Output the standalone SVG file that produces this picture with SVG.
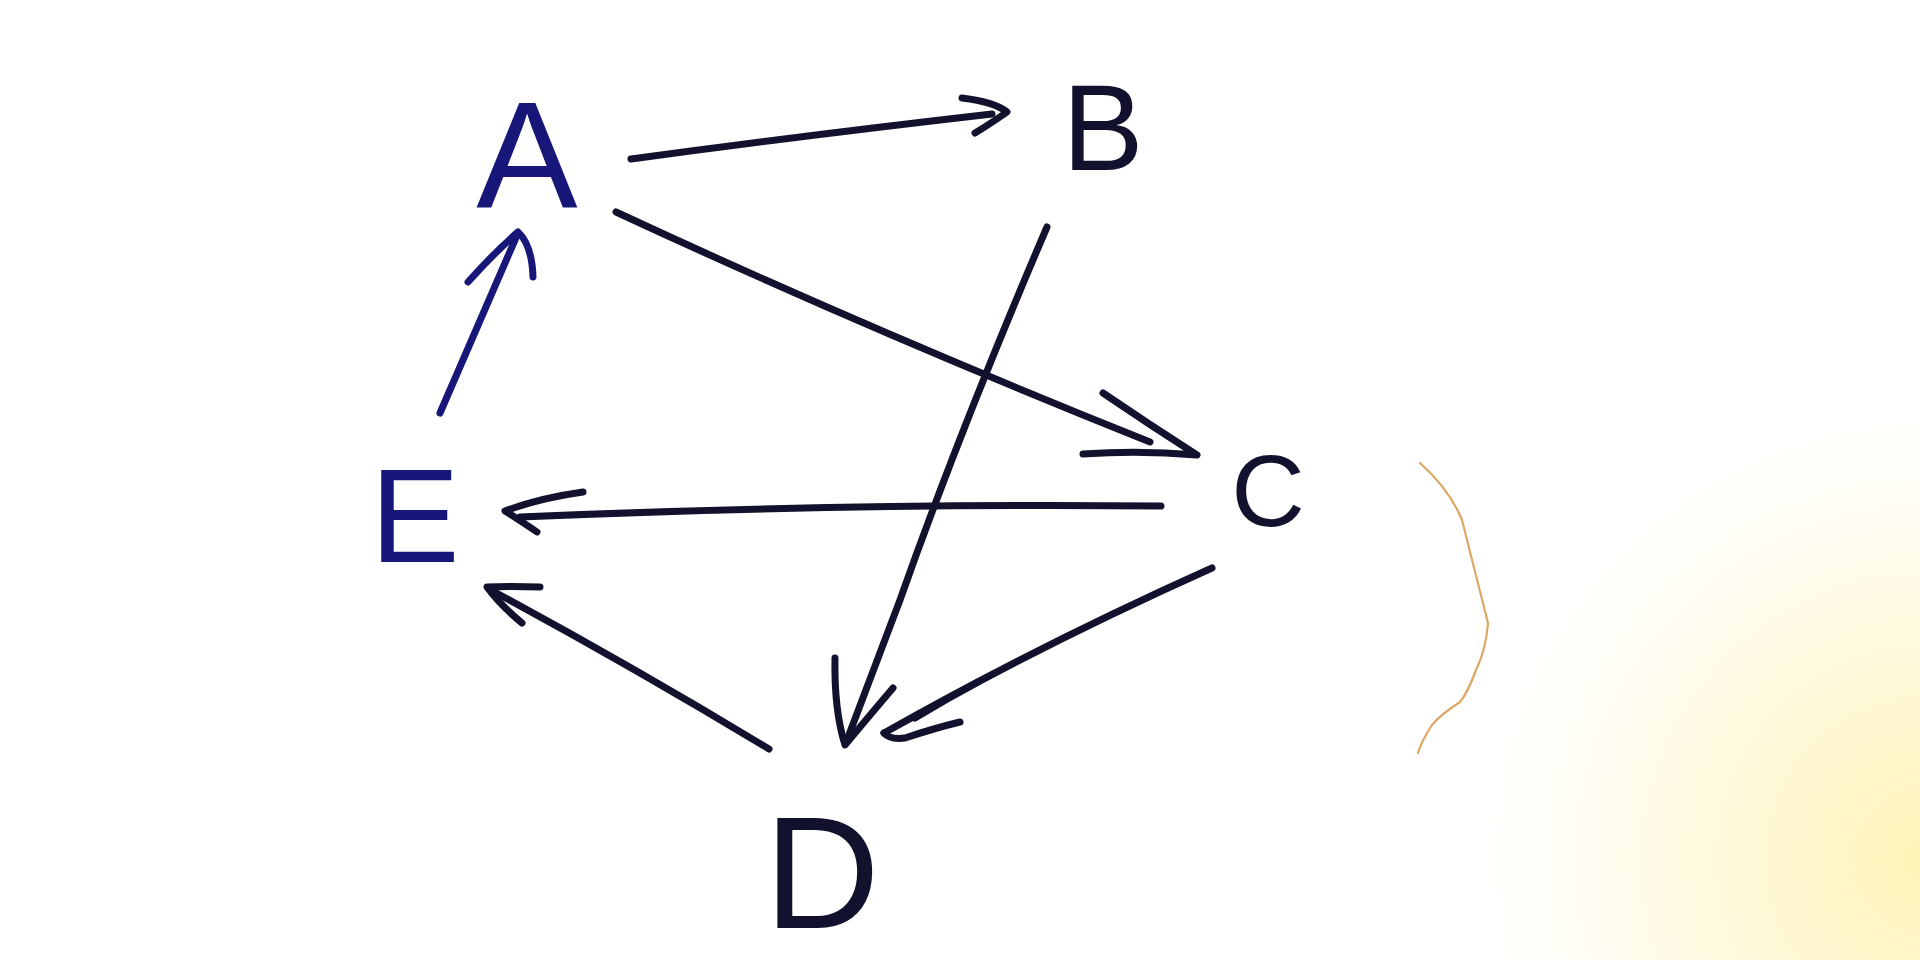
<svg xmlns="http://www.w3.org/2000/svg" width="1920" height="960" viewBox="0 0 1920 960">
  <defs>
    <radialGradient id="tint" cx="1930" cy="860" r="520" gradientUnits="userSpaceOnUse">
      <stop offset="0" stop-color="#fff2b0" stop-opacity="0.95"/>
      <stop offset="0.5" stop-color="#fff6cc" stop-opacity="0.55"/>
      <stop offset="1" stop-color="#ffffff" stop-opacity="0"/>
    </radialGradient>
    <style>
      .ink { fill: none; stroke: #12122e; stroke-width: 7; stroke-linecap: round; stroke-linejoin: round; }
      .blue { stroke: #17177a; }
      .lbl { font-family: "Liberation Sans", Arial, sans-serif; fill: #12122e; text-anchor: middle; }
      .lblb { fill: #17177a; }
      .stray { fill: none; stroke: #d08a30; stroke-width: 2.2; stroke-linecap: round; opacity: 0.75; }
    </style>
  </defs>
  <rect width="1920" height="960" fill="#ffffff"/>
  <rect width="1920" height="960" fill="url(#tint)"/>

  <g id="connectors">
    <!-- A -> B -->
    <g id="edge-A-B">
      <path class="ink" d="M631,159 Q800,136 992,114"/>
      <path class="ink" d="M962,98 Q995,102 1007,112 Q990,124 975,133"/>
    </g>
    <!-- A -> C -->
    <g id="edge-A-C">
      <path class="ink" d="M616,212 Q870,330 1150,442"/>
      <path class="ink" d="M1103,393 Q1150,425 1197,455 Q1140,450 1083,454"/>
    </g>
    <!-- B -> D -->
    <g id="edge-B-D">
      <path class="ink" d="M1047,227 Q960,430 900,600 Q870,680 847,740"/>
      <path class="ink" d="M835,658 Q834,710 845,745 Q870,715 893,688"/>
    </g>
    <!-- C -> E -->
    <g id="edge-C-E">
      <path class="ink" d="M1161,506 Q850,503 520,517"/>
      <path class="ink" d="M583,492 Q540,498 505,511 Q520,520 537,532"/>
    </g>
    <!-- C -> D -->
    <g id="edge-C-D">
      <path class="ink" d="M1212,568 Q1040,645 884,733"/>
      <path class="ink" d="M978,682 Q945,700 915,718"/>
      <path class="ink" d="M884,733 Q890,740 905,738 Q935,728 960,722"/>
    </g>
    <!-- D -> E -->
    <g id="edge-D-E">
      <path class="ink" d="M769,749 Q630,665 489,589"/>
      <path class="ink" d="M540,587 Q510,586 487,587 Q500,605 522,623"/>
    </g>
    <!-- E -> A -->
    <g id="edge-E-A">
      <path class="ink blue" d="M440,413 Q480,320 518,233"/>
      <path class="ink blue" d="M468,282 Q495,252 518,232 Q532,245 533,277"/>
    </g>
  </g>

  <g id="node-A"><text class="lbl lblb" x="527" y="208" font-size="152">A</text></g>
  <g id="node-B"><text class="lbl" x="1103" y="170" font-size="122">B</text></g>
  <g id="node-C"><text class="lbl" x="1268" y="526" font-size="102">C</text></g>
  <g id="node-D"><text class="lbl" x="822" y="928" font-size="160">D</text></g>
  <g id="node-E"><text class="lbl lblb" x="415" y="562" font-size="134">E</text></g>

  <path class="stray" d="M1420,463 Q1450,490 1462,520 Q1476,575 1488,623 Q1486,650 1476,670 Q1468,692 1460,702 Q1440,715 1432,725 Q1422,740 1418,753"/>
</svg>
